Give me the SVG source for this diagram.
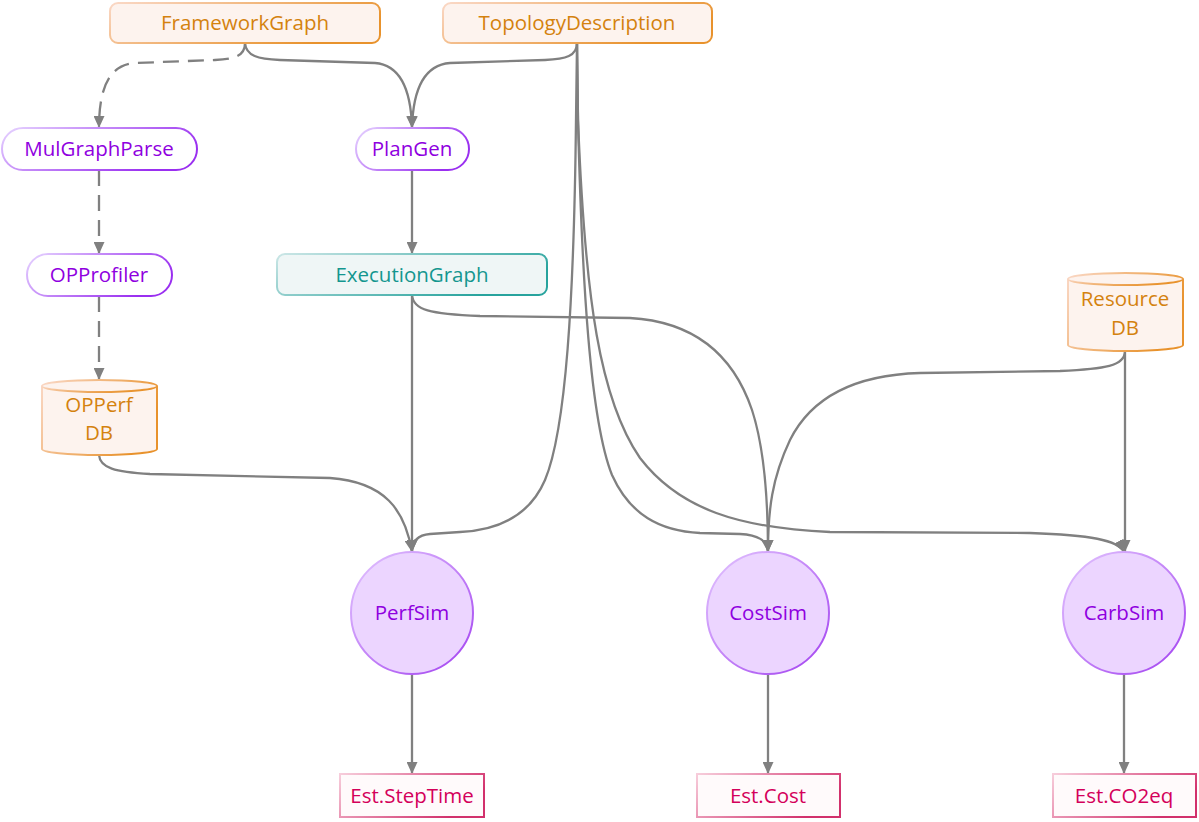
<svg xmlns="http://www.w3.org/2000/svg" width="1199" height="822" viewBox="0 0 1199 822">
<defs>
<linearGradient id="gOr" x1="0" y1="0" x2="1" y2="0.4"><stop offset="0" stop-color="#fad8c6"/><stop offset="1" stop-color="#e8922c"/></linearGradient>
<linearGradient id="gPu" x1="0" y1="0" x2="1" y2="0.4"><stop offset="0" stop-color="#e6d4ff"/><stop offset="1" stop-color="#9a2ff0"/></linearGradient>
<linearGradient id="gCi" x1="0" y1="0" x2="1" y2="1"><stop offset="0" stop-color="#e3c6ff"/><stop offset="1" stop-color="#a240f0"/></linearGradient>
<linearGradient id="gTe" x1="0" y1="0" x2="1" y2="0.4"><stop offset="0" stop-color="#cbe6e6"/><stop offset="1" stop-color="#27a39d"/></linearGradient>
<linearGradient id="gPk" x1="0" y1="0" x2="1" y2="0.4"><stop offset="0" stop-color="#f7cddb"/><stop offset="1" stop-color="#d2306c"/></linearGradient>
<marker id="arr" viewBox="0 0 12 11" refX="12" refY="5.5" markerWidth="12" markerHeight="11" markerUnits="userSpaceOnUse" orient="auto"><path d="M0,0 L12,5.5 L0,11 z" fill="#808080"/></marker>
</defs>
<style>
text{font-family:"Open Sans","Noto Sans","Liberation Sans",sans-serif;font-size:20.5px;text-anchor:middle;dominant-baseline:central}
.or rect,.or path{fill:#fdf3ee;stroke:url(#gOr);stroke-width:2}
.or text{fill:#d4820e}
.pu rect{fill:#ffffff;stroke:url(#gPu);stroke-width:2}
.pu text{fill:#8f00e0}
.ci circle{fill:#ecd5ff;stroke:url(#gCi);stroke-width:2}
.ci text{fill:#8f00e0}
.te rect{fill:#eff6f6;stroke:url(#gTe);stroke-width:2}
.te text{fill:#14968f}
.pk rect{fill:#fffafb;stroke:url(#gPk);stroke-width:2}
.pk text{fill:#d4005a}
#edges path{fill:none;stroke:#808080;stroke-width:2.3;marker-end:url(#arr)}
#edges path.d{stroke-dasharray:16 9}
</style>
<g id="edges">
<path class="d" d="M245,43 C245,56 235,59 215,60 L135,63 C108,65 99,90 99,128"/>
<path d="M245,43 C246,56 258,59 280,60 L375,63 C400,65 411,90 412,128"/>
<path d="M577,43 C577,56 566,59 545,60 L450,63 C424,65 413,90 412,128"/>
<path class="d" d="M99,170 L99,254"/>
<path class="d" d="M99,296 L99,380"/>
<path d="M412,170 L412,254"/>
<path d="M412,295 L412,552"/>
<path d="M577,43 L576,120 C574,300 566,430 545,480 C530,515 500,530 460,532 L430,534 C418,535 412,541 412,552"/>
<path d="M577,43 L578,120 C582,280 590,420 612,475 C630,515 660,531 700,533 L740,534 C758,535 767,540 768,552"/>
<path d="M577,43 L578,120 C585,300 600,400 640,458 C680,510 740,528 830,532 L1030,533 C1090,535 1118,540 1124,552"/>
<path d="M412,295 C413,310 430,314 480,316 L630,318 C700,322 735,360 752,410 C765,450 768,500 768,552"/>
<path d="M1125,351 C1125,366 1105,369 1060,371 L920,373 C850,375 810,400 790,440 C772,478 768,510 768,552"/>
<path d="M1125,351 L1125,552"/>
<path d="M99,455 C100,468 115,472 150,474 L330,478 C385,482 405,510 412,552"/>
<path d="M412,674 L412,774"/>
<path d="M768,674 L768,774"/>
<path d="M1124,674 L1124,774"/>
</g>
<g id="FrameworkGraph" class="or"><rect x="110" y="3" width="270" height="40" rx="8"/><text x="245" y="22">FrameworkGraph</text></g>
<g id="TopologyDescription" class="or"><rect x="443" y="3" width="269" height="40" rx="8"/><text x="577" y="22">TopologyDescription</text></g>
<g id="MulGraphParse" class="pu"><rect x="2" y="128" width="195" height="42" rx="21"/><text x="99" y="148">MulGraphParse</text></g>
<g id="PlanGen" class="pu"><rect x="356" y="128" width="113" height="42" rx="21"/><text x="412" y="148">PlanGen</text></g>
<g id="OPProfiler" class="pu"><rect x="27" y="254" width="145" height="42" rx="21"/><text x="99" y="274">OPProfiler</text></g>
<g id="ExecutionGraph" class="te"><rect x="277" y="254" width="270" height="41" rx="8"/><text x="412" y="274">ExecutionGraph</text></g>
<g id="OPPerfDB" class="or"><path d="M42,386 A57.5,6 0 0 1 157,386 L157,449 A57.5,6 0 0 1 42,449 Z"/><path d="M42,386 A57.5,6 0 0 0 157,386" style="fill:none"/><text x="99" y="404">OPPerf</text><text x="99" y="432">DB</text></g>
<g id="ResourceDB" class="or"><path d="M1068,279 A57.5,6 0 0 1 1183,279 L1183,345 A57.5,6 0 0 1 1068,345 Z"/><path d="M1068,279 A57.5,6 0 0 0 1183,279" style="fill:none"/><text x="1125" y="298">Resource</text><text x="1125" y="327">DB</text></g>
<g id="PerfSim" class="ci"><circle cx="412" cy="613" r="61"/><text x="412" y="612">PerfSim</text></g>
<g id="CostSim" class="ci"><circle cx="768" cy="613" r="61"/><text x="768" y="612">CostSim</text></g>
<g id="CarbSim" class="ci"><circle cx="1124" cy="613" r="61"/><text x="1124" y="612">CarbSim</text></g>
<g id="EstStepTime" class="pk"><rect x="340" y="774" width="144" height="43"/><text x="412" y="795">Est.StepTime</text></g>
<g id="EstCost" class="pk"><rect x="697" y="774" width="143" height="43"/><text x="768" y="795">Est.Cost</text></g>
<g id="EstCO2eq" class="pk"><rect x="1053" y="774" width="143" height="43"/><text x="1124" y="795">Est.CO2eq</text></g>
</svg>
